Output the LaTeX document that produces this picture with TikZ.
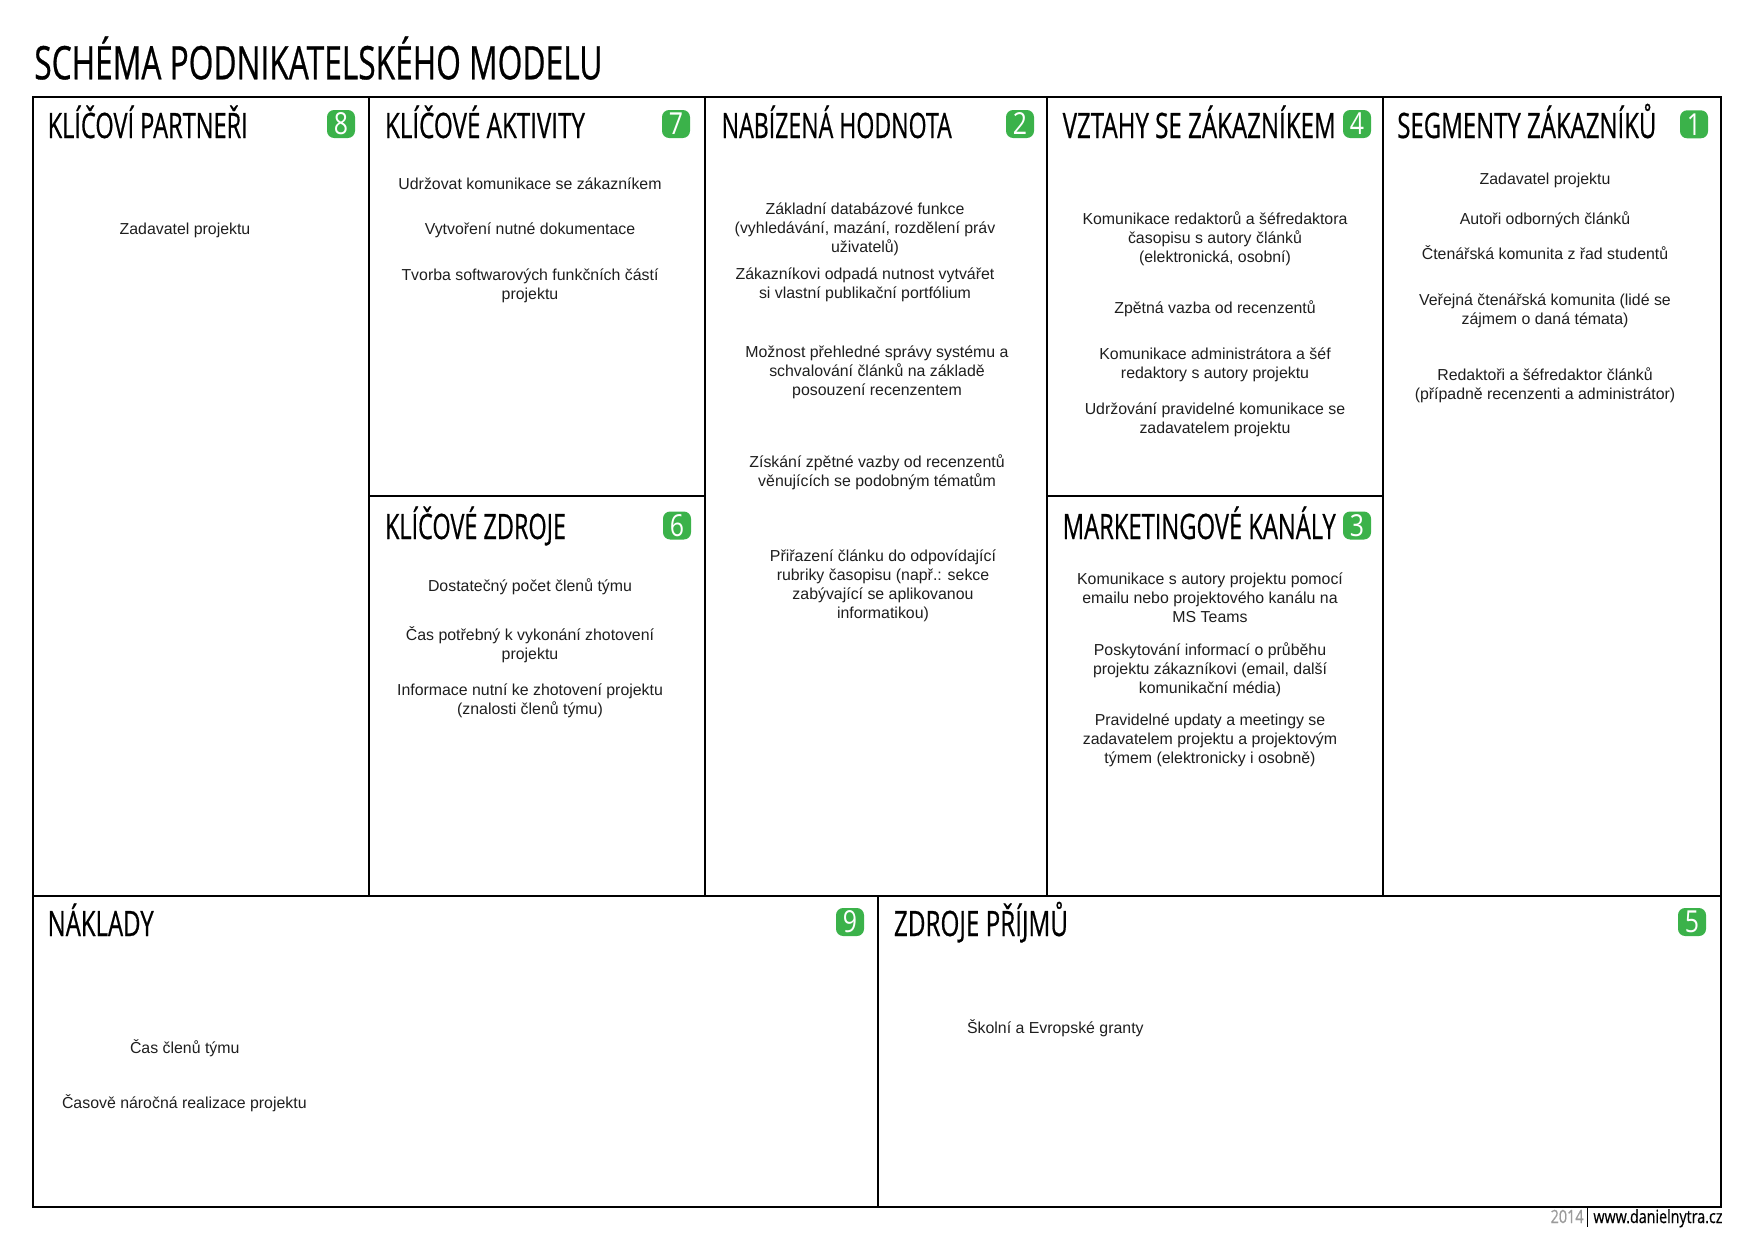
\documentclass[tikz,border=0pt]{standalone}
\usepackage{fontspec}
\usepackage{graphicx}
\setmainfont{Liberation Sans}
\newfontfamily\ttlfont{Open Sans}[FakeBold=0.7]
\newfontfamily\bdgfont{Open Sans}
\newlength\px \setlength\px{0.48151pt}
\definecolor{badgegreen}{RGB}{59,178,74}
\definecolor{bodytext}{RGB}{30,30,30}
\definecolor{footgray}{RGB}{155,155,155}
\newcommand{\ttlx}[3]{\resizebox{#1\px}{\height}{\ttlfont\fontsize{#2}{#2}\selectfont #3}}
\newcommand{\ttl}[2]{\ttlx{#1}{16.85}{#2}}
\newcommand{\txtlines}[1]{\begin{tabular}[t]{@{}c@{}}#1\end{tabular}}
\newcommand{\bdg}[1]{\scalebox{0.82}[1]{\bdgfont\fontsize{14.6}{15}\selectfont #1}}
\begin{document}
\begin{tikzpicture}[x=0.016923cm, y=-0.016923cm,
  frame/.style={line width=1.1pt, draw=black},
  ttlnode/.style={anchor=base west, inner sep=0pt, outer sep=0pt},
  body/.style={anchor=base, inner sep=0pt, outer sep=0pt, text=bodytext, font=\fontsize{7.65}{9.15}\selectfont},
  bodyleft/.style={body, anchor=base west},
  badge/.style={rectangle, rounded corners=3.4pt, fill=badgegreen, minimum width=13.48pt, minimum height=13.48pt, inner sep=0pt, text=white}]
\useasboundingbox (0,0) rectangle (1755,1241);

% frame and dividers
\draw[frame] (33,97) rectangle (1721,1207);
\draw[frame] (369,97) -- (369,896);
\draw[frame] (705,97) -- (705,896);
\draw[frame] (1047,97) -- (1047,896);
\draw[frame] (1383,97) -- (1383,896);
\draw[frame] (33,896) -- (1721,896);
\draw[frame] (369,496) -- (705,496);
\draw[frame] (1047,496) -- (1383,496);
\draw[frame] (878,896) -- (878,1207);

% main title
\node[ttlnode] (maintitle) at (34.3,79.3) {\ttlx{568}{22.25}{SCHÉMA PODNIKATELSKÉHO MODELU}};

% section titles
\node[ttlnode] (tpartneri) at (47.7,138) {\ttl{200}{KLÍČOVÍ PARTNEŘI}};
\node[ttlnode] (taktivity) at (385,138) {\ttl{200}{KLÍČOVÉ AKTIVITY}};
\node[ttlnode] (thodnota) at (721.7,138) {\ttl{230}{NABÍZENÁ HODNOTA}};
\node[ttlnode] (tvztahy) at (1062.7,138) {\ttl{273}{VZTAHY SE ZÁKAZNÍKEM}};
\node[ttlnode] (tsegmenty) at (1397.3,138) {\ttl{259}{SEGMENTY ZÁKAZNÍKŮ}};
\node[ttlnode] (tzdroje) at (385,539) {\ttl{181}{KLÍČOVÉ ZDROJE}};
\node[ttlnode] (tkanaly) at (1062.7,539) {\ttl{273}{MARKETINGOVÉ KANÁLY}};
\node[ttlnode] (tnaklady) at (47.7,936) {\ttl{106}{NÁKLADY}};
\node[ttlnode] (tprijmy) at (894,936) {\ttl{174}{ZDROJE PŘÍJMŮ}};

% badges
\node[badge] (b8) at (341,124) {\bdg{8}};
\node[badge] (b7) at (676,124) {\bdg{7}};
\node[badge] (b2) at (1020,124) {\bdg{2}};
\node[badge] (b4) at (1357,124) {\bdg{4}};
\node[badge] (b1) at (1694,124.3) {\bdg{1}};
\node[badge] (b6) at (677,525.5) {\bdg{6}};
\node[badge] (b3) at (1357,525.5) {\bdg{3}};
\node[badge] (b9) at (850,922) {\bdg{9}};
\node[badge] (b5) at (1692,922) {\bdg{5}};

% key partners
\node[body] (p1) at (185,234) {Zadavatel projektu};

% key activities
\node[body] (a1) at (530,189) {Udržovat komunikace se zákazníkem};
\node[body] (a2) at (530,234) {Vytvoření nutné dokumentace};
\node[body] (a3) at (530,280) {\txtlines{Tvorba softwarových funkčních částí\\projektu}};

% key resources
\node[body] (r1) at (530,591) {Dostatečný počet členů týmu};
\node[body] (r2) at (530,640) {\txtlines{Čas potřebný k vykonání zhotovení\\projektu}};
\node[body] (r3) at (530,695) {\txtlines{Informace nutní ke zhotovení projektu\\(znalosti členů týmu)}};

% value proposition
\node[body] (v1) at (865,214) {\txtlines{Základní databázové funkce\\(vyhledávání, mazání, rozdělení práv\\uživatelů)}};
\node[body] (v2) at (865,279) {\txtlines{Zákazníkovi odpadá nutnost vytvářet\\si vlastní publikační portfólium}};
\node[body] (v3) at (877,357) {\txtlines{Možnost přehledné správy systému a\\schvalování článků na základě\\posouzení recenzentem}};
\node[body] (v4) at (877,467) {\txtlines{Získání zpětné vazby od recenzentů\\věnujících se podobným tématům}};
\node[body] (v5) at (883,561) {\txtlines{Přiřazení článku do odpovídající\\rubriky časopisu (např.: sekce\\zabývající se aplikovanou\\informatikou)}};

% customer relationships
\node[body] (c1) at (1215,224) {\txtlines{Komunikace redaktorů a šéfredaktora\\časopisu s autory článků\\(elektronická, osobní)}};
\node[body] (c2) at (1215,313) {Zpětná vazba od recenzentů};
\node[body] (c3) at (1215,359) {\txtlines{Komunikace administrátora a šéf\\redaktory s autory projektu}};
\node[body] (c4) at (1215,414) {\txtlines{Udržování pravidelné komunikace se\\zadavatelem projektu}};

% channels
\node[body] (k1) at (1210,584) {\txtlines{Komunikace s autory projektu pomocí\\emailu nebo projektového kanálu na\\MS Teams}};
\node[body] (k2) at (1210,655) {\txtlines{Poskytování informací o průběhu\\projektu zákazníkovi (email, další\\komunikační média)}};
\node[body] (k3) at (1210,725) {\txtlines{Pravidelné updaty a meetingy se\\zadavatelem projektu a projektovým\\týmem (elektronicky i osobně)}};

% customer segments
\node[body] (s1) at (1545,184) {Zadavatel projektu};
\node[body] (s2) at (1545,224) {Autoři odborných článků};
\node[body] (s3) at (1545,259) {Čtenářská komunita z řad studentů};
\node[body] (s4) at (1545,305) {\txtlines{Veřejná čtenářská komunita (lidé se\\zájmem o daná témata)}};
\node[body] (s5) at (1545,380) {\txtlines{Redaktoři a šéfredaktor článků\\(případně recenzenti a administrátor)}};

% costs
\node[bodyleft] (n1) at (130,1053) {Čas členů týmu};
\node[bodyleft] (n2) at (62,1108) {Časově náročná realizace projektu};

% revenue
\node[bodyleft] (z1) at (967,1033) {Školní a Evropské granty};

% footer
\node[inner sep=0pt, anchor=base east, text=footgray] (fyear) at (1584,1223) {\ttlx{33}{8.77}{2014}};
\node[inner sep=0pt, anchor=base west] (fweb) at (1593,1223) {\ttlx{129}{8.77}{www.danielnytra.cz}};
\coordinate (fbartop) at (1587.5,1208);
\coordinate (fbarbot) at (1587.5,1227);
\draw[line width=0.6pt] (fbartop) -- (fbarbot);
\end{tikzpicture}
\end{document}
